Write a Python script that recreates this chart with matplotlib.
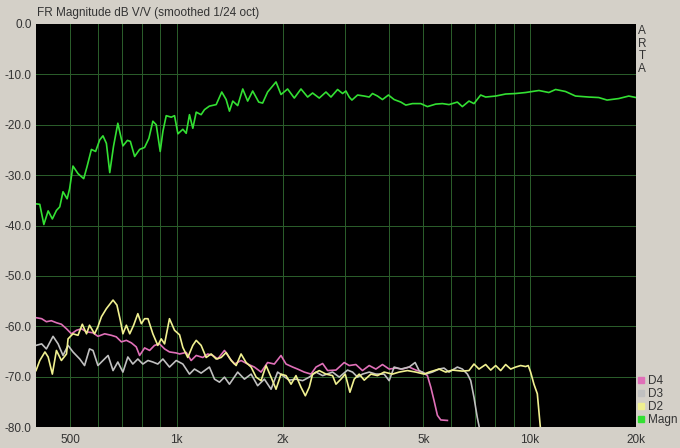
"""ARTA-style frequency response plot: Magn + D2/D3/D4 distortion curves."""
import matplotlib
matplotlib.use("Agg")
import matplotlib.pyplot as plt
from matplotlib.lines import Line2D

# ─── data (Hz, dB) ────────────────────────────────────────────────────────────

magn_f = [400, 410, 421, 433, 445, 457, 467, 477, 490, 498, 509, 526, 546, 558,
          574, 590, 606, 619, 633, 647, 663, 682, 705, 726, 740, 761, 786, 812,
          835, 857, 876, 899, 915, 935, 966, 987, 1009, 1042, 1065, 1088, 1112,
          1137, 1174, 1200, 1239, 1295, 1343, 1382, 1412, 1443, 1490, 1540,
          1590, 1643, 1709, 1753, 1811, 1913, 1976, 2063, 2155, 2251, 2351,
          2428, 2536, 2649, 2737, 2858, 2952, 3017, 3083, 3138, 3256, 3400,
          3512, 3588, 3707, 3829, 3981, 4132, 4316, 4459, 4656, 4915, 5133,
          5420, 5660, 5910, 6240, 6446, 6732, 6954, 7264, 7505, 8011, 8550,
          9126, 9740, 10620, 11330, 11840, 12630, 13480, 14700, 15690, 16560,
          17870, 19080, 20000]
magn_db = [-35.7, -35.8, -39.8, -37.1, -38.7, -37.0, -36.3, -33.3, -34.7, -32.7,
           -28.2, -29.7, -30.7, -28.3, -24.9, -25.3, -23.0, -22.2, -23.7, -29.5,
           -24.3, -19.7, -24.2, -23.1, -23.3, -26.3, -24.9, -24.5, -22.7, -19.3,
           -20.0, -25.3, -21.3, -18.2, -18.5, -18.2, -21.8, -20.9, -21.7, -18.0,
           -20.7, -17.5, -18.0, -17.0, -16.3, -16.0, -13.5, -15.0, -17.3, -15.3,
           -16.2, -12.9, -15.3, -13.3, -15.5, -15.7, -13.5, -11.5, -14.0, -12.9,
           -14.7, -12.9, -14.5, -13.7, -14.7, -13.5, -14.5, -13.0, -13.8, -13.3,
           -14.5, -15.1, -14.1, -14.3, -14.5, -13.8, -14.3, -15.0, -14.1, -15.0,
           -15.5, -16.1, -15.8, -15.8, -16.4, -15.9, -15.8, -16.0, -15.5, -16.4,
           -15.3, -15.8, -14.1, -14.5, -14.3, -13.9, -13.8, -13.6, -13.2, -13.6,
           -13.0, -13.4, -14.3, -14.5, -14.6, -15.1, -14.8, -14.3, -14.6]

d4_f = [400, 415, 428, 442, 457, 472, 488, 504, 521, 538, 556, 580, 599, 626,
        654, 675, 698, 721, 745, 769, 786, 812, 839, 866, 895, 925, 955, 998,
        1020, 1065, 1100, 1137, 1187, 1226, 1267, 1308, 1367, 1412, 1459, 1523,
        1590, 1661, 1735, 1811, 1892, 1976, 2042, 2132, 2202, 2300, 2403, 2483,
        2592, 2678, 2828, 2984, 3083, 3220, 3361, 3512, 3668, 3829, 4000, 4178,
        4362, 4556, 4760, 4969, 5133, 5248, 5362, 5480, 5600, 5848]
d4_db = [-58.3, -58.5, -59.1, -58.9, -59.3, -59.6, -60.5, -61.5, -60.8, -60.5,
         -61.1, -61.3, -62.0, -61.5, -61.8, -62.1, -63.1, -62.8, -63.3, -64.1,
         -65.8, -64.3, -64.8, -63.8, -63.5, -64.5, -65.1, -65.3, -65.5, -65.2,
         -66.8, -65.8, -66.2, -65.5, -65.8, -66.5, -64.8, -66.3, -67.5, -66.8,
         -67.5, -68.1, -69.1, -67.2, -67.5, -65.8, -67.5, -68.1, -68.5, -69.1,
         -69.5, -68.1, -67.4, -68.8, -68.7, -67.2, -67.8, -67.6, -68.8, -67.8,
         -68.5, -67.6, -68.5, -68.3, -68.5, -68.1, -68.7, -69.1, -69.8, -72.1,
         -74.8, -77.7, -78.6, -78.7]

d3_f = [400, 415, 428, 447, 462, 477, 493, 509, 532, 549, 567, 580, 599, 619,
        640, 661, 682, 705, 728, 752, 777, 803, 830, 857, 885, 915, 955, 998,
        1042, 1088, 1124, 1174, 1239, 1281, 1323, 1367, 1412, 1490, 1557, 1626,
        1697, 1773, 1852, 1933, 1997, 2086, 2179, 2276, 2376, 2483, 2592, 2766,
        2889, 3050, 3151, 3256, 3361, 3512, 3668, 3871, 4000, 4132, 4316, 4556,
        4738, 4862, 5080, 5303, 5538, 5721, 5910, 6240, 6446, 6663, 6808, 6954,
        7105, 7216]
d3_db = [-63.8, -63.5, -64.5, -62.0, -63.5, -65.8, -63.8, -65.1, -66.5, -67.8,
         -64.5, -64.8, -67.8, -66.8, -65.8, -68.8, -67.1, -69.1, -66.1, -67.5,
         -66.5, -67.5, -66.8, -67.1, -67.5, -66.5, -68.1, -66.8, -67.5, -69.5,
         -68.5, -69.3, -68.1, -70.5, -71.1, -70.1, -71.5, -69.1, -70.5, -69.5,
         -71.8, -70.5, -72.5, -69.1, -69.8, -70.7, -70.5, -70.8, -70.1, -69.1,
         -69.8, -69.1, -70.1, -68.7, -69.1, -70.1, -69.5, -69.1, -69.5, -69.5,
         -70.8, -68.1, -68.5, -68.1, -67.2, -68.8, -69.5, -69.1, -68.5, -68.3,
         -69.1, -68.1, -68.5, -69.5, -70.8, -74.1, -78.1, -80.4]

d2_f = [400, 410, 424, 433, 445, 457, 472, 488, 493, 509, 526, 541, 556, 567,
        586, 599, 613, 633, 661, 678, 693, 705, 721, 737, 756, 777, 795, 812,
        830, 857, 885, 905, 925, 955, 987, 1020, 1042, 1076, 1112, 1137, 1174,
        1213, 1253, 1295, 1338, 1382, 1428, 1475, 1523, 1574, 1626, 1680, 1735,
        1793, 1852, 1913, 1976, 2042, 2110, 2179, 2251, 2316, 2376, 2428, 2536,
        2649, 2766, 2828, 2920, 3004, 3097, 3185, 3290, 3400, 3551, 3707, 3871,
        4087, 4268, 4506, 4760, 5023, 5190, 5362, 5538, 5784, 6041, 6240, 6446,
        6732, 6954, 7185, 7505, 7754, 8011, 8276, 8550, 8833, 9126, 9428, 9740,
        9905, 10060, 10280, 10510, 10740]
d2_db = [-68.8, -66.8, -65.1, -66.1, -69.5, -64.8, -66.8, -65.5, -62.5, -61.5,
         -61.8, -59.6, -61.5, -59.8, -61.5, -60.1, -58.1, -56.5, -54.8, -55.8,
         -58.8, -61.5, -59.8, -61.5, -59.8, -57.5, -59.5, -58.5, -58.5, -61.5,
         -63.8, -62.5, -63.5, -58.5, -60.8, -61.7, -64.2, -66.2, -63.8, -62.8,
         -63.8, -66.2, -65.5, -66.5, -66.2, -65.2, -66.8, -67.8, -65.5, -67.2,
         -68.1, -70.1, -70.8, -67.8, -70.1, -72.5, -69.5, -69.8, -71.5, -69.8,
         -72.1, -73.8, -72.1, -69.5, -68.8, -69.5, -69.8, -71.5, -70.5, -69.5,
         -73.1, -70.5, -69.5, -70.7, -69.5, -69.8, -69.1, -69.5, -69.1, -68.8,
         -69.1, -69.5, -69.1, -68.8, -68.5, -69.1, -68.7, -68.8, -68.9, -68.8,
         -67.5, -68.5, -67.6, -68.7, -67.8, -68.8, -67.6, -68.5, -68.1, -67.8,
         -68.0, -67.8, -69.1, -71.5, -73.4, -80.7]

x_ticks = [500, 1000, 2000, 5000, 10000, 20000]
x_ticklabels = ["500", "1k", "2k", "5k", "10k", "20k"]
y_ticks = [0, -10, -20, -30, -40, -50, -60, -70, -80]

series = [("D4", d4_f, d4_db, "#e070b8"),
          ("D3", d3_f, d3_db, "#c0c0c0"),
          ("D2", d2_f, d2_db, "#f0f090"),
          ("Magn", magn_f, magn_db, "#33e033")]

# ─── plotting ─────────────────────────────────────────────────────────────────

BG = "#d4d0c8"
GRID = "#2a5c2a"
plt.rcParams["font.family"] = ["Liberation Sans", "DejaVu Sans"]

fig = plt.figure(figsize=(6.8, 4.48), dpi=100, facecolor=BG)
ax = fig.add_axes([36 / 680, 21 / 448, 600 / 680, 403 / 448])
ax.set_facecolor("black")

ax.set_xscale("log")
ax.set_xlim(400, 20000)
ax.set_ylim(-80, 0)

# 1 px grid lines (0.72 pt at 100 dpi)
minor = [m * d for d in (100, 1000, 10000) for m in range(1, 10)]
for f in minor:
    if 400 < f < 20000:
        ax.axvline(f, color=GRID, lw=0.72, zorder=0, antialiased=False)
for y in y_ticks[1:-1]:
    ax.axhline(y, color=GRID, lw=0.72, zorder=0, antialiased=False)

for name, f, db, col in series:
    ax.plot(f, db, color=col, lw=1.2)

ax.set_xticks(x_ticks)
ax.set_xticklabels(x_ticklabels)
ax.set_xticks([], minor=True)
ax.set_yticks(y_ticks)
ax.set_yticklabels([f"{v:.1f}" if v else "0.0" for v in y_ticks])
ax.tick_params(length=0, labelsize=8.5, colors="#333333", pad=3)
ax.tick_params(axis="x", pad=5)
for s in ax.spines.values():
    s.set_visible(False)

fig.text(37 / 680, 1 - 13 / 448, "FR Magnitude dB V/V (smoothed 1/24 oct)",
         fontsize=8.5, color="#333333", va="center", ha="left")
fig.text(642 / 680, 1 - 50 / 448, "A\nR\nT\nA", fontsize=8.5, color="#333333",
         ha="center", va="center", linespacing=1.05)

handles = [Line2D([], [], ls="none", marker="s", ms=4, color=c,
                  label=n) for n, _, _, c in series]
fig.legend(handles=handles, loc="upper left",
           bbox_to_anchor=(637 / 680, 1 - 375 / 448), frameon=False,
           fontsize=8.5, handlelength=0.6, handletextpad=0.3,
           labelspacing=0.08, borderpad=0, borderaxespad=0,
           labelcolor="#333333")

fig.savefig("out.png", dpi=100, facecolor=BG)
